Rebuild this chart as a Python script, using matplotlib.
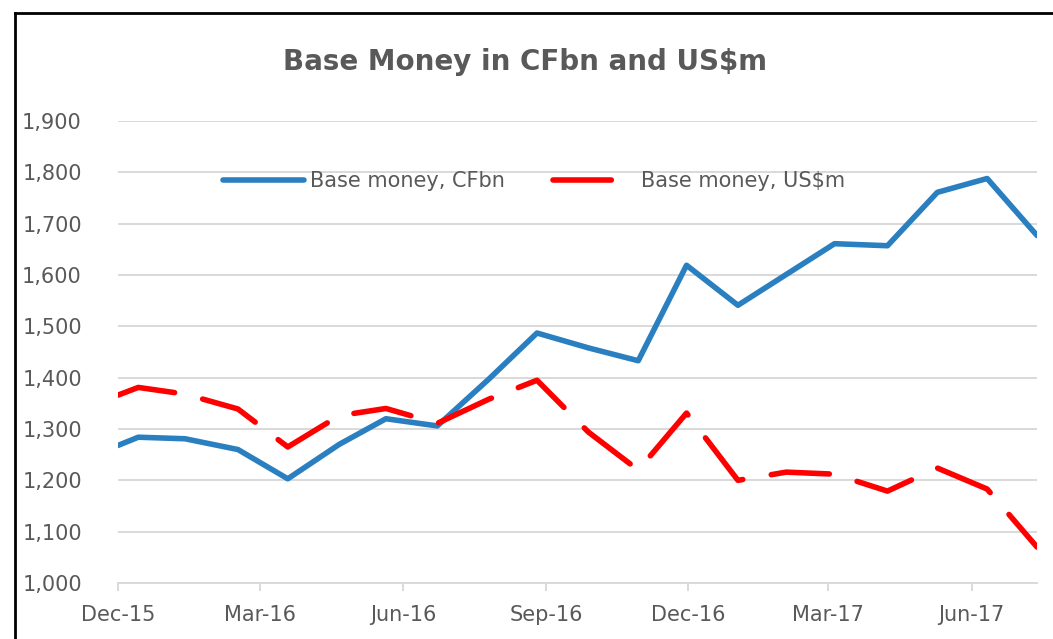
import pandas as pd
import matplotlib.pyplot as plt
import matplotlib.dates as mdates
from matplotlib.lines import Line2D
from matplotlib.ticker import FuncFormatter

dates = ["2015-12-01", "2015-12-14", "2016-01-13", "2016-02-16", "2016-03-19",
         "2016-04-21", "2016-05-21", "2016-06-23", "2016-07-26", "2016-08-26",
         "2016-09-28", "2016-10-30", "2016-11-30", "2017-01-02", "2017-02-02",
         "2017-03-05", "2017-04-08", "2017-05-10", "2017-06-11", "2017-07-13"]

cf_bn = [1268, 1284, 1281, 1260, 1203, 1270, 1320, 1306, 1397, 1487,
         1458, 1433, 1619, 1541, 1601, 1661, 1657, 1761, 1788, 1677]

us_m = [1366, 1381, 1368, 1339, 1265, 1326, 1340, 1311, 1358, 1395,
        1294, 1220, 1331, 1200, 1216, 1212, 1179, 1224, 1183, 1070]

tick_dates = ["2015-12-01", "2016-03-01", "2016-06-01", "2016-09-01",
              "2016-12-01", "2017-03-01", "2017-06-01"]

x = pd.to_datetime(dates)
grey = "#595959"
grid = "#d9d9d9"

fig = plt.figure(figsize=(10.53, 6.39), dpi=100)
ax = fig.add_axes([118 / 1053, 1 - 583 / 639, (1037 - 118) / 1053, 462 / 639])

ax.plot(x, cf_bn, color="#2a7fc0", lw=4, solid_capstyle="round",
        solid_joinstyle="round", label="Base money, CFbn", zorder=3)
ax.plot(x, us_m, color="#ff0000", lw=4, dashes=(10.5, 5.2), dash_capstyle="round",
        dash_joinstyle="round", label="Base money, US$m", zorder=3)

ax.set_ylim(1000, 1900)
ax.set_yticks(range(1000, 1901, 100))
ax.yaxis.set_major_formatter(FuncFormatter(lambda v, p: f"{int(v):,}"))
ax.set_xlim(x[0], x[-1])
ax.set_xticks(pd.to_datetime(tick_dates))
ax.xaxis.set_major_formatter(mdates.DateFormatter("%b-%y"))

ax.grid(axis="y", color=grid, lw=1.4)
ax.set_axisbelow(True)
for s in ["top", "right", "left"]:
    ax.spines[s].set_visible(False)
ax.spines["bottom"].set_color(grid)
ax.spines["bottom"].set_linewidth(1.4)
ax.tick_params(axis="y", length=0, pad=26, labelsize=15, labelcolor=grey)
ax.tick_params(axis="x", length=6, width=1.4, color=grid, pad=10,
               labelsize=15, labelcolor=grey)

fig.text(525 / 1053, 1 - 62 / 639, "Base Money in CFbn and US$m",
         ha="center", va="center", fontsize=20, fontweight="bold", color=grey)

ax.legend(loc="center left", bbox_to_anchor=(223 / 1053, 1 - 181 / 639),
          bbox_transform=fig.transFigure, ncol=2, frameon=False, fontsize=15,
          labelcolor=grey, handlelength=3.9, handletextpad=0.3,
          columnspacing=2.3, borderpad=0, borderaxespad=0)

# chart frame (left and top edges visible)
fig.add_artist(Line2D([15 / 1053, 15 / 1053], [0, 1 - 13 / 639], color="black",
                      lw=2, transform=fig.transFigure))
fig.add_artist(Line2D([15 / 1053, 1], [1 - 13 / 639, 1 - 13 / 639], color="black",
                      lw=2, transform=fig.transFigure))

plt.savefig("out.png", dpi=100)
plt.close()
